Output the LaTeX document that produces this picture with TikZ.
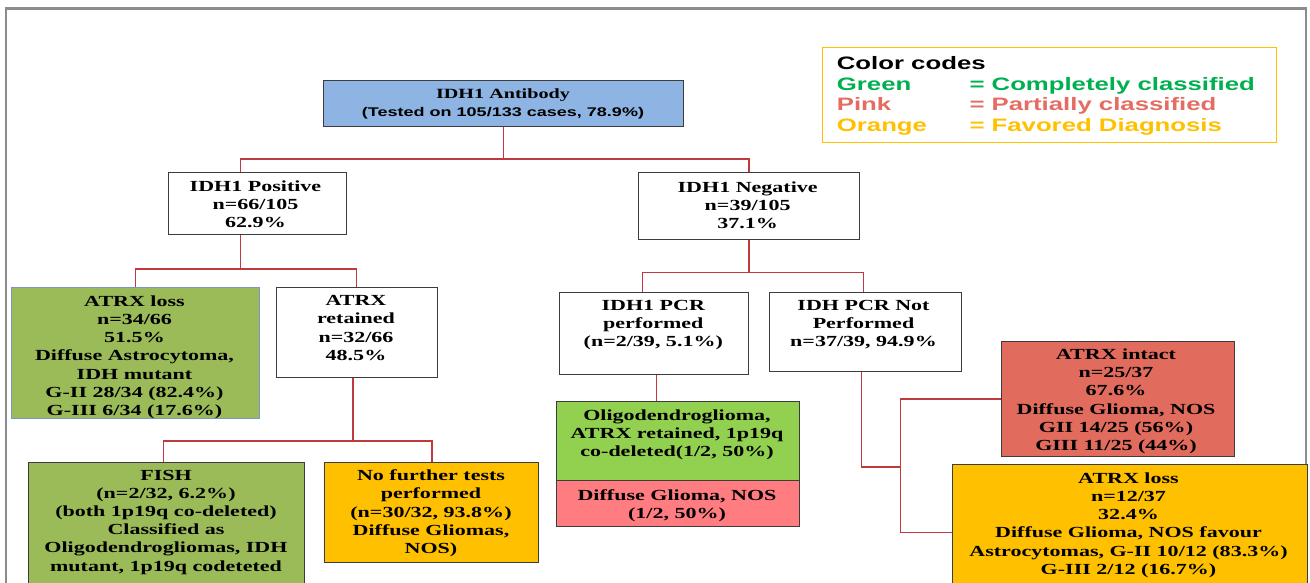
\documentclass[tikz,border=0pt]{standalone}
\usepackage{fontspec}
\newfontfamily\serifb{Liberation Serif}[FakeStretch=1.43]
\newfontfamily\sansb{Liberation Sans}[FakeStretch=1.43]
\definecolor{connred}{RGB}{192,57,60}
\definecolor{boxline}{RGB}{60,60,60}
\definecolor{topblue}{RGB}{141,180,226}
\definecolor{ogreen}{RGB}{155,187,89}
\definecolor{lgreen}{RGB}{146,208,80}
\definecolor{lpink}{RGB}{255,124,128}
\definecolor{salmon}{RGB}{225,108,93}
\definecolor{amber}{RGB}{255,192,0}
\definecolor{codegreen}{RGB}{0,176,80}
\definecolor{codepink}{RGB}{228,108,98}
\definecolor{framegray}{RGB}{140,140,140}
\definecolor{lossedge}{RGB}{120,150,200}
\begin{document}
\begin{tikzpicture}[x=1pt,y=-1pt,
  box/.style={draw=boxline, line width=1.1pt, inner sep=0pt, anchor=north west},
  txt/.style={inner sep=0pt, anchor=north, align=center, font=\serifb\bfseries\fontsize{15.4}{18.2}\selectfont},
  legtxt/.style={inner sep=0pt, anchor=base west, font=\sansb\bfseries\fontsize{18}{20.5}\selectfont},
  conn/.style={draw=connred, line width=1.4pt}]
\useasboundingbox (0,0) rectangle (1310,582);
\clip (0,0) rectangle (1310,582);
% outer frame
\draw[framegray, line width=2.6pt] (6,620) -- (6,8.7) -- (1306,8.7) -- (1306,620);
% legend
\node[draw=amber, line width=1pt, inner sep=0pt, anchor=north west, minimum width=453.7pt, minimum height=95pt] (leg) at (822.3,46.7) {};
\node[legtxt] (legT) at (836.7,69.3) {Color codes};
\node[legtxt, text=codegreen] (legG) at (836.7,90.7) {Green};
\node[legtxt, text=codegreen] (legGd) at (969.3,90.7) {= Completely classified};
\node[legtxt, text=codepink] (legP) at (836.7,110.9) {Pink};
\node[legtxt, text=codepink] (legPd) at (969.3,110.9) {= Partially classified};
\node[legtxt, text=amber] (legO) at (836.7,131.1) {Orange};
\node[legtxt, text=amber] (legOd) at (969.3,131.1) {= Favored Diagnosis};
% boxes
\node[box, fill=topblue, minimum width=360pt, minimum height=46pt] (top) at (323,80) {};
\node[box, fill=white, minimum width=178pt, minimum height=62pt] (pos) at (168,172) {};
\node[box, fill=white, minimum width=221.5pt, minimum height=67pt] (neg) at (637.5,172.3) {};
\node[box, fill=ogreen, draw=lossedge, minimum width=248pt, minimum height=131pt] (loss) at (11,286.7) {};
\node[box, fill=white, minimum width=161.6pt, minimum height=90.6pt] (ret) at (275.7,286.7) {};
\node[box, fill=ogreen, minimum width=275.7pt, minimum height=150pt] (fish) at (28.3,462) {};
\node[box, fill=amber, minimum width=214pt, minimum height=100pt] (nft) at (324.3,462) {};
\node[box, fill=white, minimum width=188.7pt, minimum height=82.3pt] (pcr) at (559,291.7) {};
\node[box, fill=white, minimum width=192.3pt, minimum height=78.4pt] (npcr) at (768.7,292.3) {};
\node[box, fill=lgreen, minimum width=243pt, minimum height=79pt] (oligo) at (556,401) {};
\node[box, fill=lpink, minimum width=243pt, minimum height=46pt] (nos) at (556,480) {};
\node[box, fill=salmon, minimum width=233.3pt, minimum height=115pt] (intact) at (1000.7,341) {};
\node[box, fill=amber, minimum width=355pt, minimum height=136pt] (oloss) at (952,464) {};
% texts
\node[txt] (topT) at (503,88.6) {{\fontsize{14.1}{18}\selectfont IDH1 Antibody}\\{\sansb\bfseries\fontsize{12.6}{18}\selectfont (Tested on 105/133 cases, 78.9\%)}};
\node[txt] (posT) at (255.5,180.4) {IDH1 Positive\\n=66/105\\62.9\%};
\node[txt] (negT) at (747.7,181.4) {IDH1 Negative\\n=39/105\\37.1\%};
\node[txt] (lossT) at (134.5,295.4) {ATRX loss\\n=34/66\\51.5\%\\Diffuse Astrocytoma,\\IDH mutant\\G-II 28/34 (82.4\%)\\G-III 6/34 (17.6\%)};
\node[txt] (retT) at (356,295.4) {ATRX\\retained\\n=32/66\\48.5\%};
\node[txt] (fishT) at (166,469.7) {FISH\\(n=2/32, 6.2\%)\\(both 1p19q co-deleted)\\Classified as\\Oligodendrogliomas, IDH\\mutant, 1p19q codeteted};
\node[txt] (nftT) at (431,469.7) {No further tests\\performed\\(n=30/32, 93.8\%)\\Diffuse Gliomas,\\NOS)};
\node[txt] (pcrT) at (653.3,299.7) {IDH1 PCR\\performed\\(n=2/39, 5.1\%)};
\node[txt] (npcrT) at (863.5,299.7) {IDH PCR Not\\Performed\\n=37/39, 94.9\%};
\node[txt] (oligoT) at (677,409.7) {Oligodendroglioma,\\ATRX retained, 1p19q\\co-deleted(1/2, 50\%)};
\node[txt] (nosT) at (677,489) {Diffuse Glioma, NOS\\(1/2, 50\%)};
\node[txt] (intactT) at (1116,348.7) {ATRX intact\\n=25/37\\67.6\%\\Diffuse Glioma, NOS\\GII 14/25 (56\%)\\GIII 11/25 (44\%)};
\node[txt] (olossT) at (1128.5,472.4) {ATRX loss\\n=12/37\\32.4\%\\Diffuse Glioma, NOS favour\\Astrocytomas, G-II 10/12 (83.3\%)\\G-III 2/12 (16.7\%)};
% connectors
\draw[conn] (top.south) -- ++(0,32) coordinate (j1);
\draw[conn] ([xshift=-17pt]pos.north) |- (j1) -| (neg.north);
\draw[conn] ([xshift=-17pt]pos.south) -- ++(0,33.7) coordinate (j2);
\draw[conn] (loss.north) |- (j2) -| ([xshift=-0.8pt]ret.north);
\draw[conn] ([xshift=-4.2pt]ret.south) -- ++(0,62.7) coordinate (j3);
\draw[conn] ([xshift=-3pt]fish.north) |- (j3) -| (nft.north);
\draw[conn] (neg.south) -- ++(0,32) coordinate (j4);
\draw[conn] ([xshift=-11.6pt]pcr.north) |- (j4) -| ([xshift=-2pt]npcr.north);
\draw[conn] ([xshift=2.7pt]pcr.south) -- ([xshift=2.7pt]pcr.south |- oligo.north);
\draw[conn] ([xshift=-4pt]npcr.south) -- ++(0,95) -- ++(39,0) coordinate (j5);
\draw[conn] (intact.west) -| (j5) |- (oloss.west);
\end{tikzpicture}
\end{document}
